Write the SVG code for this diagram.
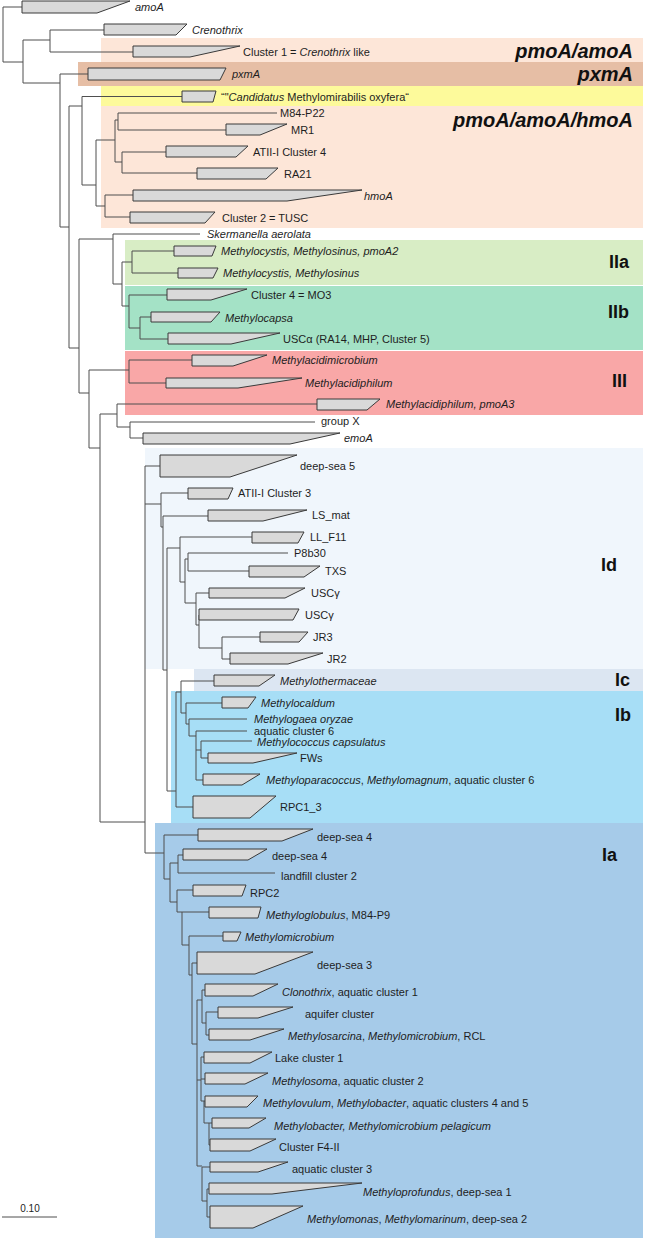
<svg xmlns="http://www.w3.org/2000/svg" width="645" height="1240" viewBox="0 0 645 1240">
<style>
.br{stroke:#4f4f4f;stroke-width:1;fill:none}
.cl{fill:#d9d9d9;stroke:#3a3a3a;stroke-width:1}
text{font-family:"Liberation Sans",Arial,sans-serif;fill:#1e1e1e}
.lb{font-size:11px}
.it{font-style:italic}
.grp{font-size:20px;font-weight:bold;font-style:italic;text-anchor:end;fill:#111}
.rom{font-size:18px;font-weight:bold;text-anchor:end;fill:#111}
</style>
<rect width="645" height="1240" fill="#fff"/>
<g id="bands">
<rect x="101" y="38" width="542" height="24" fill="#fde6d8"/>
<rect x="78" y="62" width="565" height="24" fill="#e6bea5"/>
<rect x="101" y="86" width="542" height="20" fill="#fdfa9b"/>
<rect x="101" y="106" width="542" height="122" fill="#fde6d8"/>
<rect x="125" y="240" width="518" height="45" fill="#d8edc5"/>
<rect x="125" y="286" width="518" height="64" fill="#a4e2c6"/>
<rect x="125" y="351" width="518" height="64" fill="#f9a7a7"/>
<rect x="145" y="448" width="498" height="221" fill="#f0f6fc"/>
<rect x="194" y="669" width="449" height="22" fill="#dce6f2"/>
<rect x="171" y="691" width="472" height="132" fill="#a7def6"/>
<rect x="155" y="823" width="488" height="415" fill="#a6cbe9"/>
</g>
<g id="clade-labels">
<text class="grp" x="633" y="58">pmoA/amoA</text>
<text class="grp" x="633" y="81">pxmA</text>
<text class="grp" x="633" y="127">pmoA/amoA/hmoA</text>
<text class="rom" x="629" y="268">IIa</text>
<text class="rom" x="629" y="318">IIb</text>
<text class="rom" x="627" y="387">III</text>
<text class="rom" x="617" y="571">Id</text>
<text class="rom" x="630" y="686">Ic</text>
<text class="rom" x="631" y="721">Ib</text>
<text class="rom" x="617" y="861">Ia</text>
</g>
<g id="connectors" class="br">
<path d="M3 7V62M3 7H22M3 62H23M23 40V83M23 40H50M50 30V52M50 30H104M50 52H133M23 83H60M60 74V227M60 74H88M60 227H69M69 106V348M69 106H82M82 96.5V185M82 96.5H182M82 185H96M96 140V206M96 140H115M115 120V162M115 120H118M118 113V130M118 113H277M118 130H226M115 162H122M122 152V173M122 152H166M122 173H197M96 206H105M105 195V217M105 195H133M105 217H130"/>
<path d="M69 348H79M79 239V393M79 239H113M113 234V284M113 234H200M113 284H122M122 262V306M122 262H132M132 251V273M132 251H174M132 273H178M122 306H129M129 295V328M129 295H167M129 328H140M140 317V339M140 317H151M140 339H168M79 393H89M89 370V448M89 370H129M129 360V383M129 360H192M129 383H166M89 448H100M100 414V822M100 414H117M117 404V427M117 404H317M117 427H130M130 422V438M130 422H315M130 438H143"/>
<path d="M100 822H145M145 466V853M145 466H160M145 504H161M161 493V527M161 493H188M161 527H163M163 516V670M163 516H208M163 670H167M167 548V791M167 548H180M180 537V582M180 537H252M180 582H185M185 559V603M185 559H188M188 553V571M188 553H288M188 571H249M185 603H196M196 593V625M196 593H209M196 625H199M199 615V648M199 648H222M222 637V659M222 637H260M222 659H230"/>
<path d="M167 791H176M176 692V807M176 692H181M181 681V713M181 681H214M181 713H186M186 703V724M186 703H222M186 724H189M189 719V736M189 719H247M189 736H196M196 731V780M196 731H247M196 750H201M201 741V758M201 741H252M201 758H208M196 780H203M176 807H193"/>
<path d="M145 853H164M164 835V879M164 835H198M164 879H170M170 863V902M170 863H178M178 855V873M178 855H183M178 873H275M170 902H177M177 890V912M177 890H193M177 912H182M182 912V945M182 912H209M182 945H189M189 936V975M189 936H223M189 975H192M192 963V1044M192 963H197M192 1044H197M197 1000V1166M197 1000H202M202 990V1023M202 990H205M202 1023H206M206 1012V1035M206 1012H218M206 1035H209M197 1080H201M201 1057V1101M201 1057H204M201 1079H205M201 1101H205M204 1101V1123M204 1123H212M209 1123V1145M209 1145H210M197 1166H202M202 1167V1201M202 1167H210M202 1201H207M207 1189V1217M207 1189H209M207 1217H210"/>
</g>
<g id="amoA"><polygon class="cl" points="22,1 130,1 97,13 22,13"/><text class="lb it" x="135" y="11">amoA</text></g>
<g id="crenothrix"><polygon class="cl" points="104,24 187,24 176,35 104,35"/><text class="lb it" x="192" y="34">Crenothrix</text></g>
<g id="cluster1"><polygon class="cl" points="133,46 240,46 190,57 133,57"/><text class="lb" x="243" y="56">Cluster 1 = <tspan class="it">Crenothrix</tspan> like</text></g>
<g id="pxmA"><polygon class="cl" points="88,68 226,68 220,80 88,80"/><text class="lb it" x="232" y="78">pxmA</text></g>
<g id="candidatus"><polygon class="cl" points="182,91 216,91 213,102 182,102"/><text class="lb" x="221" y="101">“"<tspan class="it">Candidatus</tspan> Methylomirabilis oxyfera“</text></g>
<g id="m84p22"><text class="lb" x="280" y="117">M84-P22</text></g>
<g id="mr1"><polygon class="cl" points="226,124 287,124 260,135 226,135"/><text class="lb" x="291" y="134">MR1</text></g>
<g id="atii-c4"><polygon class="cl" points="166,146 248,146 236,157 166,157"/><text class="lb" x="253" y="156">ATII-I Cluster 4</text></g>
<g id="ra21"><polygon class="cl" points="197,168 278,168 266,179 197,179"/><text class="lb" x="284" y="178">RA21</text></g>
<g id="hmoA"><polygon class="cl" points="133,190 362,190 287,201 133,201"/><text class="lb it" x="364" y="200">hmoA</text></g>
<g id="cluster2"><polygon class="cl" points="130,212 215,212 205,223 130,223"/><text class="lb" x="222" y="222">Cluster 2 = TUSC</text></g>
<g id="skermanella"><text class="lb it" x="207" y="238">Skermanella aerolata</text></g>
<g id="pmoA2"><polygon class="cl" points="174,246 216,246 212,256 174,256"/><text class="lb it" x="221" y="255">Methylocystis, Methylosinus, pmoA2</text></g>
<g id="methylocystis"><polygon class="cl" points="178,268 218,268 213,278 178,278"/><text class="lb it" x="223" y="277">Methylocystis, Methylosinus</text></g>
<g id="mo3"><polygon class="cl" points="167,289 247,289 211,300 167,300"/><text class="lb" x="251" y="299">Cluster 4 = MO3</text></g>
<g id="methylocapsa"><polygon class="cl" points="151,312 220,312 211,322 151,322"/><text class="lb it" x="225" y="322">Methylocapsa</text></g>
<g id="usca"><polygon class="cl" points="168,333 280,333 231,344 168,344"/><text class="lb" x="283" y="343">USCα (RA14, MHP, Cluster 5)</text></g>
<g id="methylacidimicrobium"><polygon class="cl" points="192,355 267,355 233,366 192,366"/><text class="lb it" x="272" y="364">Methylacidimicrobium</text></g>
<g id="methylacidiphilum"><polygon class="cl" points="166,378 302,378 238,388 166,388"/><text class="lb it" x="305" y="387">Methylacidiphilum</text></g>
<g id="pmoA3"><polygon class="cl" points="317,399 380,399 367,410 317,410"/><text class="lb it" x="386" y="408">Methylacidiphilum, pmoA3</text></g>
<g id="groupx"><text class="lb" x="321" y="425">group X</text></g>
<g id="emoA"><polygon class="cl" points="143,433 340,433 290,444 143,444"/><text class="lb it" x="344" y="442">emoA</text></g>
<g id="deepsea5"><polygon class="cl" points="160,455 297,455 230,477 160,477"/><text class="lb" x="300" y="470">deep-sea 5</text></g>
<g id="atii-c3"><polygon class="cl" points="188,488 233,488 228,499 188,499"/><text class="lb" x="238" y="497">ATII-I Cluster 3</text></g>
<g id="lsmat"><polygon class="cl" points="208,510 307,510 263,521 208,521"/><text class="lb" x="312" y="519">LS_mat</text></g>
<g id="llf11"><polygon class="cl" points="252,532 304,532 298,543 252,543"/><text class="lb" x="310" y="541">LL_F11</text></g>
<g id="p8b30"><text class="lb" x="294" y="557">P8b30</text></g>
<g id="txs"><polygon class="cl" points="249,566 320,566 304,577 249,577"/><text class="lb" x="325" y="575">TXS</text></g>
<g id="uscg1"><polygon class="cl" points="209,588 305,588 285,598 209,598"/><text class="lb" x="311" y="597">USCγ</text></g>
<g id="uscg2"><polygon class="cl" points="199,609 299,609 293,620 199,620"/><text class="lb" x="305" y="619">USCγ</text></g>
<g id="jr3"><polygon class="cl" points="260,632 308,632 299,642 260,642"/><text class="lb" x="313" y="641">JR3</text></g>
<g id="jr2"><polygon class="cl" points="230,653 323,653 288,664 230,664"/><text class="lb" x="327" y="663">JR2</text></g>
<g id="methylothermaceae"><polygon class="cl" points="214,675 275,675 259,686 214,686"/><text class="lb it" x="280" y="685">Methylothermaceae</text></g>
<g id="methylocaldum"><polygon class="cl" points="222,697 256,697 248,708 222,708"/><text class="lb it" x="261" y="707">Methylocaldum</text></g>
<g id="methylogaea"><text class="lb it" x="254" y="723">Methylogaea oryzae</text></g>
<g id="aquatic6"><text class="lb" x="254" y="735">aquatic cluster 6</text></g>
<g id="methylococcus"><text class="lb it" x="257" y="746">Methylococcus capsulatus</text></g>
<g id="fws"><polygon class="cl" points="208,753 297,753 253,763 208,763"/><text class="lb" x="300" y="762">FWs</text></g>
<g id="methyloparacoccus"><polygon class="cl" points="203,774 260,774 242,785 203,785"/><text class="lb" x="266" y="784"><tspan class="it">Methyloparacoccus</tspan>, <tspan class="it">Methylomagnum</tspan>, aquatic cluster 6</text></g>
<g id="rpc1_3"><polygon class="cl" points="193,796 276,796 250,818 193,818"/><text class="lb" x="280" y="811">RPC1_3</text></g>
<g id="deepsea4a"><polygon class="cl" points="198,829 313,829 282,841 198,841"/><text class="lb" x="317" y="841">deep-sea 4</text></g>
<g id="deepsea4b"><polygon class="cl" points="183,849 267,849 248,860 183,860"/><text class="lb" x="272" y="860">deep-sea 4</text></g>
<g id="landfill2"><text class="lb" x="281" y="880">landfill cluster 2</text></g>
<g id="rpc2"><polygon class="cl" points="193,885 246,885 242,896 193,896"/><text class="lb" x="250" y="897">RPC2</text></g>
<g id="methyloglobulus"><polygon class="cl" points="209,907 261,907 258,918 209,918"/><text class="lb" x="266" y="919"><tspan class="it">Methyloglobulus</tspan>, M84-P9</text></g>
<g id="methylomicrobium"><polygon class="cl" points="223,932 241,932 237,941 223,941"/><text class="lb it" x="245" y="941">Methylomicrobium</text></g>
<g id="deepsea3"><polygon class="cl" points="197,952 313,952 255,974 197,974"/><text class="lb" x="317" y="969">deep-sea 3</text></g>
<g id="clonothrix"><polygon class="cl" points="205,984 278,984 253,996 205,996"/><text class="lb" x="282" y="996"><tspan class="it">Clonothrix</tspan>, aquatic cluster 1</text></g>
<g id="aquifer"><polygon class="cl" points="218,1007 293,1007 258,1018 218,1018"/><text class="lb" x="305" y="1018">aquifer cluster</text></g>
<g id="methylosarcina"><polygon class="cl" points="209,1029 284,1029 250,1040 209,1040"/><text class="lb" x="288" y="1040"><tspan class="it">Methylosarcina</tspan>, <tspan class="it">Methylomicrobium</tspan>, RCL</text></g>
<g id="lake1"><polygon class="cl" points="204,1052 272,1052 250,1063 204,1063"/><text class="lb" x="275" y="1062">Lake cluster 1</text></g>
<g id="methylosoma"><polygon class="cl" points="205,1073 268,1073 245,1084 205,1084"/><text class="lb" x="272" y="1085"><tspan class="it">Methylosoma</tspan>, aquatic cluster 2</text></g>
<g id="methylovulum"><polygon class="cl" points="205,1096 258,1096 247,1107 205,1107"/><text class="lb" x="263" y="1107"><tspan class="it">Methylovulum</tspan>, <tspan class="it">Methylobacter</tspan>, aquatic clusters 4 and 5</text></g>
<g id="methylobacter"><polygon class="cl" points="212,1118 266,1118 249,1128 212,1128"/><text class="lb it" x="274" y="1130">Methylobacter, Methylomicrobium pelagicum</text></g>
<g id="f4ii"><polygon class="cl" points="210,1139 276,1139 250,1151 210,1151"/><text class="lb" x="279" y="1151">Cluster F4-II</text></g>
<g id="aquatic3"><polygon class="cl" points="210,1162 288,1162 258,1172 210,1172"/><text class="lb" x="292" y="1173">aquatic cluster 3</text></g>
<g id="methyloprofundus"><polygon class="cl" points="209,1183 362,1183 272,1194 209,1194"/><text class="lb" x="363" y="1196"><tspan class="it">Methyloprofundus</tspan>, deep-sea 1</text></g>
<g id="methylomonas"><polygon class="cl" points="210,1206 303,1206 253,1228 210,1228"/><text class="lb" x="307" y="1223"><tspan class="it">Methylomonas</tspan>, <tspan class="it">Methylomarinum</tspan>, deep-sea 2</text></g>
<g id="scale">
<path class="br" d="M2 1217H57"/>
<text x="30" y="1212" font-size="10" text-anchor="middle">0.10</text>
</g>
</svg>
